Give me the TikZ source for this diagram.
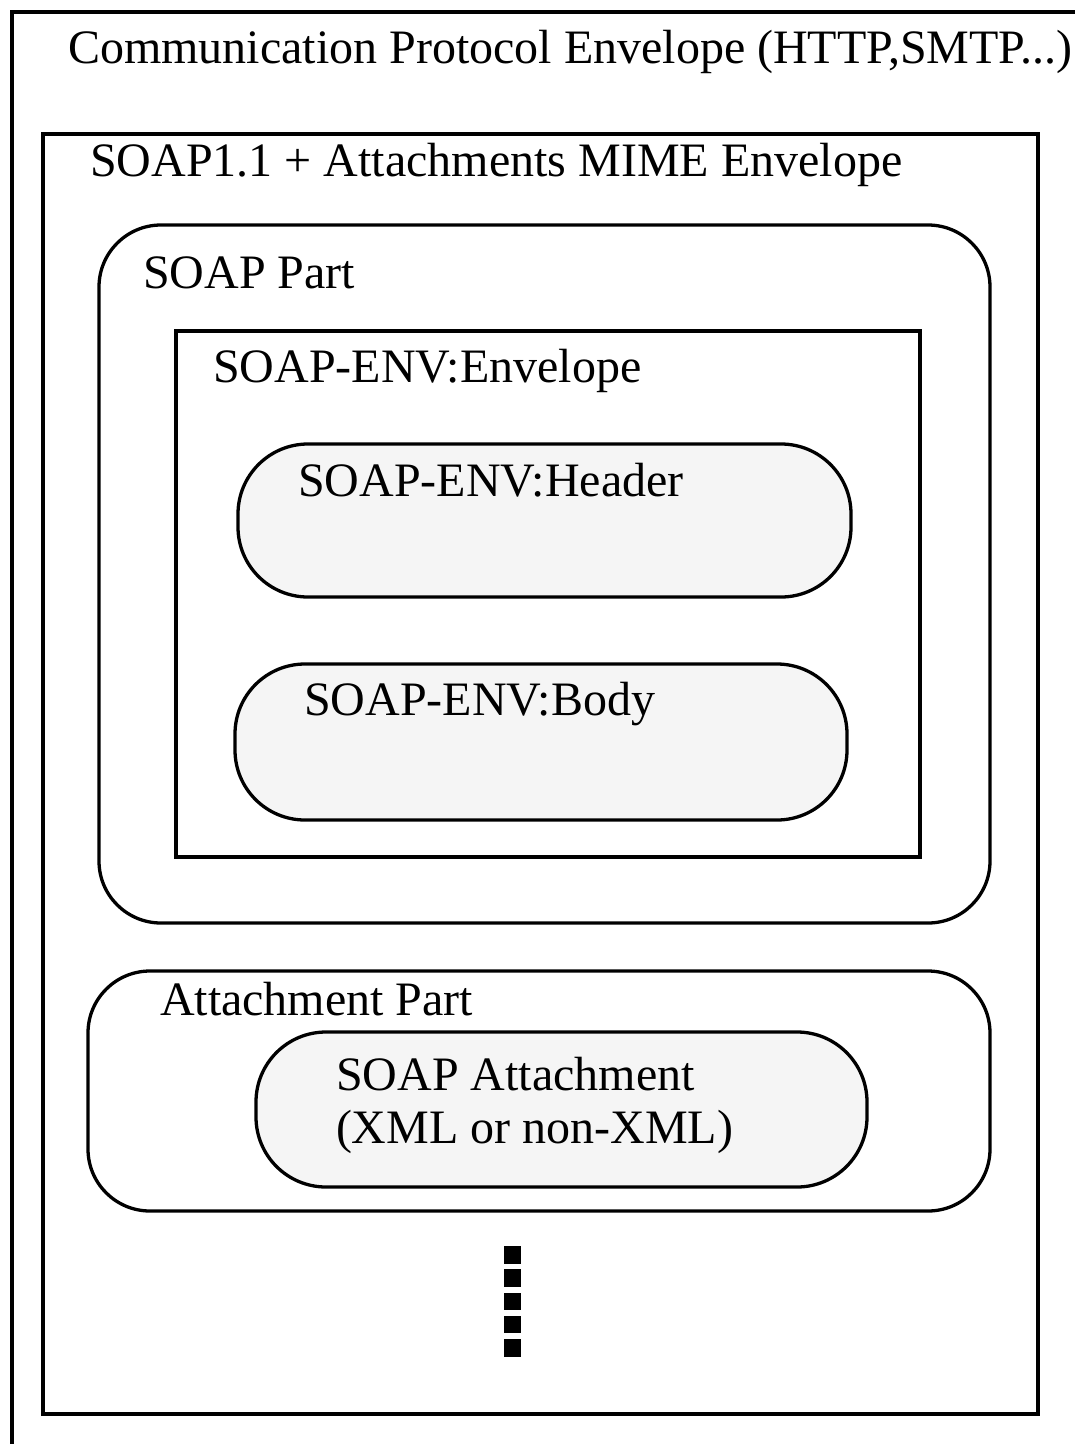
\documentclass[tikz,border=0pt]{standalone}
\usepackage{fontspec}
\setmainfont{Liberation Serif}
\definecolor{pillgray}{HTML}{F5F5F5}
\begin{document}
\begin{tikzpicture}[x=1pt,y=-1pt,
  sqbox/.style={draw, line width=4pt, rectangle, anchor=north west, inner sep=0pt, outer sep=0pt},
  rbox/.style={draw, line width=3.3pt, rectangle, rounded corners=62pt, anchor=north west, inner sep=0pt, outer sep=0pt},
  pill/.style={rbox, fill=pillgray, rounded corners=70pt},
  lbl/.style={anchor=base west, inner sep=0pt, outer sep=0pt, font=\fontsize{48}{54}\selectfont},
  dotsq/.style={fill=black}
]
\useasboundingbox (0,0) rectangle (1075,1444);
\fill[white] (0,0) rectangle (1075,1444);
% boxes
\node[sqbox, minimum width=1300pt, minimum height=1700pt] (outer) at (12,12) {};
\node[sqbox, line width=4.5pt, minimum width=995pt, minimum height=1280pt] (mime) at (43,134) {};
\node[rbox, minimum width=891pt, minimum height=698pt] (soappart) at (99,225) {};
\node[sqbox, minimum width=744pt, minimum height=526pt] (env) at (176,331) {};
\node[pill, minimum width=613pt, minimum height=153pt] (header) at (238,444) {};
\node[pill, minimum width=612pt, minimum height=156pt] (body) at (235,664) {};
\node[rbox, minimum width=902pt, minimum height=240pt] (attpart) at (88,971) {};
\node[pill, minimum width=611pt, minimum height=155pt] (attach) at (256,1032) {};
% labels
\node[lbl] (tcomm) at (68,63) {Communication Protocol Envelope (HTTP,SMTP...)};
\node[lbl] (tmime) at (90,176) {SOAP1.1 + Attachments MIME Envelope};
\node[lbl] (tpart) at (143,288) {SOAP Part};
\node[lbl] (tenv) at (213,382) {SOAP-ENV:Envelope};
\node[lbl] (thead) at (298,496) {SOAP-ENV:Header};
\node[lbl] (tbody) at (304,715) {SOAP-ENV:Body};
\node[lbl] (tatt) at (160,1015) {Attachment Part};
\node[lbl] (tattach1) at (336,1090) {SOAP Attachment};
\node[lbl] (tattach2) at (336,1143) {(XML or non-XML)};
% continuation dots
\foreach \yy in {1246,1269.3,1292.6,1315.9,1339.2}
  \fill[dotsq] (504,\yy) rectangle (521,\yy+17.5);
\end{tikzpicture}
\end{document}
